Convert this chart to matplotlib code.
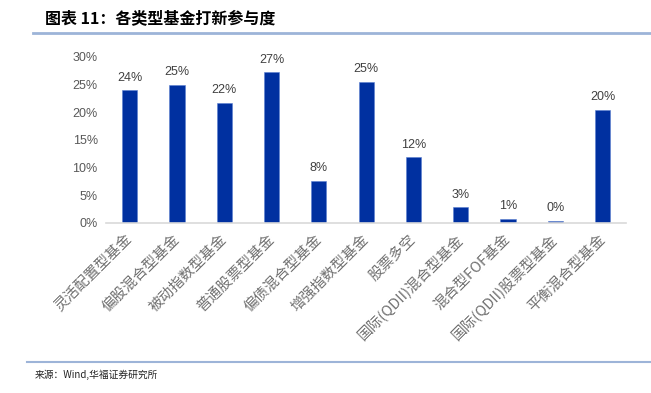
import matplotlib.pyplot as plt
import matplotlib.lines as mlines
from matplotlib.ticker import PercentFormatter

plt.rcParams['font.family'] = ['Liberation Sans', 'Noto Sans CJK SC', 'DejaVu Sans']

categories = ['灵活配置型基金', '偏股混合型基金', '被动指数型基金', '普通股票型基金', '偏债混合型基金',
              '增强指数型基金', '股票多空', '国际(QDII)混合型基金', '混合型FOF基金',
              '国际(QDII)股票型基金', '平衡混合型基金']
values = [0.240, 0.250, 0.217, 0.272, 0.076, 0.255, 0.119, 0.028, 0.008, 0.004, 0.205]
labels = ['24%', '25%', '22%', '27%', '8%', '25%', '12%', '3%', '1%', '0%', '20%']

fig = plt.figure(figsize=(6.51, 3.93), dpi=100)
ax = fig.add_axes([0.163, 0.4326, 0.799, 0.4224])

x = range(len(categories))
ax.bar(x, values, width=0.32, color='#0030A0', edgecolor='#5b7fd0', linewidth=0.4)
for i, v in enumerate(values):
    ax.text(i, v + 0.012, labels[i], ha='center', va='bottom', fontsize=9, color='#404040')

ax.set_xlim(-0.5, len(categories) - 0.5)
ax.set_ylim(0, 0.30)
ax.set_yticks([0, 0.05, 0.10, 0.15, 0.20, 0.25, 0.30])
ax.yaxis.set_major_formatter(PercentFormatter(1.0, decimals=0))
ax.tick_params(axis='y', length=0, labelsize=9, labelcolor='#595959', pad=6)
ax.tick_params(axis='x', length=0, pad=10)
ax.set_xticks(list(x))
ax.set_xticklabels(categories, rotation=45, ha='right', va='center', rotation_mode='anchor',
                   fontsize=10.5, color='#707070', family=['Noto Sans CJK SC', 'DejaVu Sans'])
for s in ['top', 'right', 'left']:
    ax.spines[s].set_visible(False)
ax.spines['bottom'].set_color('#d9d9d9')
ax.spines['bottom'].set_linewidth(1.2)

fig.text(0.069, 0.955, '图表 11：各类型基金打新参与度', fontsize=11.5, fontweight='bold',
         ha='left', va='center', family=['Noto Sans CJK SC', 'DejaVu Sans'])
fig.add_artist(mlines.Line2D([0.051, 1.0], [0.916, 0.916], color='#9db4d8', linewidth=2))
fig.add_artist(mlines.Line2D([0.042, 1.0], [0.079, 0.079], color='#9db4d8', linewidth=1.5))
fig.text(0.054, 0.046, '来源：Wind,华福证券研究所', fontsize=7, ha='left', va='center',
         color='#222222', family=['Noto Sans CJK SC', 'DejaVu Sans'])

fig.savefig('out.png', dpi=100)
